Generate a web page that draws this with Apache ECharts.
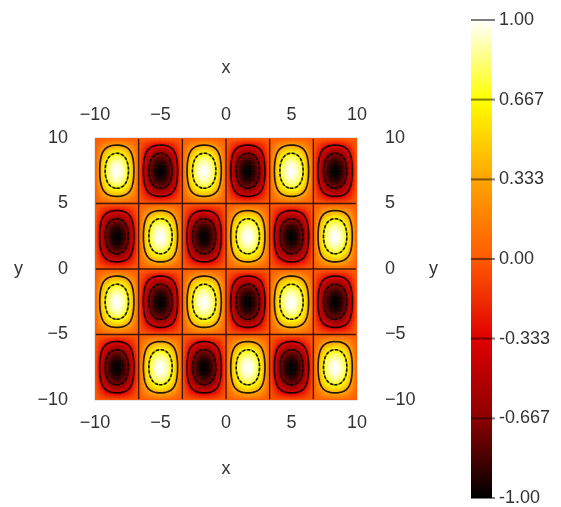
<!DOCTYPE html>
<html>
<head>
<meta charset="utf-8">
<script src="https://cdn.jsdelivr.net/npm/echarts@6/dist/echarts.min.js"></script>
<style>
  html, body { margin: 0; padding: 0; background: #fff; }
  #chart { width: 561px; height: 507px; }
</style>
</head>
<body>
<div id="chart"></div>
<script>
// Cell edges of the checkerboard surface (data units)
const xEdges = [-10, -6.667, -3.333, 0, 3.333, 6.667, 10];
const yEdges = [10, 5, 0, -5, -10]; // top to bottom

// Peak value of each cell, rows from top (y 5..10) down to bottom (y -10..-5)
const cellPeaks = [
  [ 1, -1,  1, -1,  1, -1],
  [-1,  1, -1,  1, -1,  1],
  [ 1, -1,  1, -1,  1, -1],
  [-1,  1, -1,  1, -1,  1]
];

// Contour levels drawn over the surface
const contourLevels = [-0.667, -0.333, 0, 0.333, 0.667];

// Axis ticks
const xTicks = [-10, -5, 0, 5, 10];
const yTicks = [-10, -5, 0, 5, 10];
const colorbarValues = [-1, -0.667, -0.333, 0, 0.333, 0.667, 1];
const colorbarLabels = ['-1.00', '-0.667', '-0.333', '0.00', '0.333', '0.667', '1.00'];

// Colour scale (value -> colour)
const colorStops = [
  [-1, '#000000'],
  [-0.667, '#8c0000'],
  [-0.333, '#e00000'],
  [0, '#ff5a00'],
  [0.333, '#ffa500'],
  [0.667, '#ffff00'],
  [1, '#ffffff']
];

const FONT = '"Liberation Sans", Arial, sans-serif';
const TEXT = '#333';
const FS = 18;

function hexToRgb(h) {
  return [parseInt(h.slice(1, 3), 16), parseInt(h.slice(3, 5), 16), parseInt(h.slice(5, 7), 16)];
}
const stopRgb = colorStops.map(s => [s[0], hexToRgb(s[1])]);
function colorAt(z) {
  if (z <= stopRgb[0][0]) z = stopRgb[0][0];
  if (z >= stopRgb[stopRgb.length - 1][0]) z = stopRgb[stopRgb.length - 1][0];
  for (let k = 0; k < stopRgb.length - 1; k++) {
    const a = stopRgb[k], b = stopRgb[k + 1];
    if (z <= b[0]) {
      const t = (z - a[0]) / (b[0] - a[0]);
      const c = a[1].map((v, i) => Math.round(v + (b[1][i] - v) * t));
      return 'rgb(' + c.join(',') + ')';
    }
  }
  return colorStops[colorStops.length - 1][1];
}

// Surface value: each cell is a smooth bump that vanishes on the cell edges
function surface(x, y) {
  let c = 0;
  while (c < xEdges.length - 2 && x > xEdges[c + 1]) c++;
  let r = 0;
  while (r < yEdges.length - 2 && y < yEdges[r + 1]) r++;
  const u = (x - xEdges[c]) / (xEdges[c + 1] - xEdges[c]);
  const v = (yEdges[r] - y) / (yEdges[r] - yEdges[r + 1]);
  return cellPeaks[r][c] * Math.sin(Math.PI * u) * Math.sin(Math.PI * v);
}

// Sample the surface on a regular grid
const N = 160;
const x0 = xEdges[0], x1 = xEdges[xEdges.length - 1];
const y0 = yEdges[yEdges.length - 1], y1 = yEdges[0];
const dx = (x1 - x0) / N, dy = (y1 - y0) / N;
const gx = [], gy = [];
for (let i = 0; i < N; i++) gx.push(x0 + (i + 0.5) * dx);
for (let j = 0; j < N; j++) gy.push(y0 + (j + 0.5) * dy);
const grid = [];
const fillData = [];
for (let j = 0; j < N; j++) {
  const row = [];
  for (let i = 0; i < N; i++) {
    const z = surface(gx[i], gy[j]);
    row.push(z);
    fillData.push([gx[i], gy[j], z]);
  }
  grid.push(row);
}

// Marching squares, with segments chained into polylines
function contour(level) {
  const segs = [];
  const pts = {};
  function edgePoint(key, xa, ya, za, xb, yb, zb) {
    if (!pts[key]) {
      const t = (level - za) / (zb - za);
      pts[key] = [xa + (xb - xa) * t, ya + (yb - ya) * t];
    }
    return key;
  }
  for (let j = 0; j < N - 1; j++) {
    for (let i = 0; i < N - 1; i++) {
      const za = grid[j][i], zb = grid[j][i + 1], zc = grid[j + 1][i + 1], zd = grid[j + 1][i];
      const ia = za >= level, ib = zb >= level, ic = zc >= level, id = zd >= level;
      const e = [null, null, null, null];
      if (ia !== ib) e[0] = edgePoint('h' + i + ',' + j, gx[i], gy[j], za, gx[i + 1], gy[j], zb);
      if (ib !== ic) e[1] = edgePoint('v' + (i + 1) + ',' + j, gx[i + 1], gy[j], zb, gx[i + 1], gy[j + 1], zc);
      if (id !== ic) e[2] = edgePoint('h' + i + ',' + (j + 1), gx[i], gy[j + 1], zd, gx[i + 1], gy[j + 1], zc);
      if (ia !== id) e[3] = edgePoint('v' + i + ',' + j, gx[i], gy[j], za, gx[i], gy[j + 1], zd);
      const found = e.filter(k => k !== null);
      if (found.length === 2) {
        segs.push(found);
      } else if (found.length === 4) {
        const center = (za + zb + zc + zd) / 4 >= level;
        if (center === ia) { segs.push([e[0], e[1]]); segs.push([e[2], e[3]]); }
        else { segs.push([e[3], e[0]]); segs.push([e[1], e[2]]); }
      }
    }
  }
  const byKey = {};
  segs.forEach((s, k) => {
    (byKey[s[0]] = byKey[s[0]] || []).push(k);
    (byKey[s[1]] = byKey[s[1]] || []).push(k);
  });
  const used = new Array(segs.length).fill(false);
  const lines = [];
  function walk(startSeg, startKey) {
    const keys = [startKey];
    let seg = startSeg, key = startKey;
    while (seg !== undefined && !used[seg]) {
      used[seg] = true;
      const next = segs[seg][0] === key ? segs[seg][1] : segs[seg][0];
      keys.push(next);
      key = next;
      seg = (byKey[key] || []).find(s => !used[s]);
    }
    return keys.map(k => pts[k]);
  }
  // open chains first, then closed loops
  Object.keys(byKey).forEach(k => {
    if (byKey[k].length === 1 && !used[byKey[k][0]]) lines.push(walk(byKey[k][0], k));
  });
  segs.forEach((s, k) => { if (!used[k]) lines.push(walk(k, s[0])); });
  return lines;
}

function contourSeries(levels, style) {
  const data = [];
  levels.forEach(l => contour(l).forEach(c => data.push({ coords: c })));
  return {
    type: 'lines',
    coordinateSystem: 'cartesian2d',
    xAxisIndex: 0,
    yAxisIndex: 0,
    polyline: true,
    silent: true,
    z: 5,
    lineStyle: style,
    data: data
  };
}

const minus = v => String(v).replace('-', '\u2212');
const labelStyle = { color: TEXT, fontSize: FS, fontFamily: FONT };

const chart = echarts.init(document.getElementById('chart'), null, { renderer: 'canvas' });

chart.setOption({
  animation: false,
  backgroundColor: '#fff',
  textStyle: { fontFamily: FONT },
  grid: [
    { left: 95, top: 138, width: 262, height: 262, show: true, borderColor: '#ccc', borderWidth: 1, backgroundColor: 'transparent' },
    { left: 471, top: 20, width: 21, height: 478 }
  ],
  xAxis: [
    {
      gridIndex: 0, type: 'value', position: 'bottom', min: -10, max: 10, interval: 5,
      name: 'x', nameLocation: 'middle', nameGap: 60, nameTextStyle: labelStyle,
      axisLine: { show: false }, axisTick: { show: false }, splitLine: { show: false },
      axisLabel: Object.assign({ customValues: xTicks, margin: 14, formatter: minus }, labelStyle)
    },
    {
      gridIndex: 0, type: 'value', position: 'top', min: -10, max: 10, interval: 5,
      name: 'x', nameLocation: 'middle', nameGap: 61, nameTextStyle: labelStyle,
      axisLine: { show: false }, axisTick: { show: false }, splitLine: { show: false },
      axisLabel: Object.assign({ customValues: xTicks, margin: 14, formatter: minus }, labelStyle)
    },
    {
      gridIndex: 1, type: 'value', min: 0, max: 1, show: false
    }
  ],
  yAxis: [
    {
      gridIndex: 0, type: 'value', position: 'left', min: -10, max: 10, interval: 5,
      name: 'y', nameLocation: 'middle', nameGap: 72, nameRotate: 0, nameTextStyle: labelStyle,
      axisLine: { show: false }, axisTick: { show: false }, splitLine: { show: false },
      axisLabel: Object.assign({ customValues: yTicks, margin: 27, formatter: minus }, labelStyle)
    },
    {
      gridIndex: 0, type: 'value', position: 'right', min: -10, max: 10, interval: 5,
      name: 'y', nameLocation: 'middle', nameGap: 72, nameRotate: 0, nameTextStyle: labelStyle,
      axisLine: { show: false }, axisTick: { show: false }, splitLine: { show: false },
      axisLabel: Object.assign({ customValues: yTicks, margin: 28, formatter: minus }, labelStyle)
    },
    {
      gridIndex: 1, type: 'value', position: 'right', min: -1, max: 1,
      axisLine: { show: true, lineStyle: { color: '#999', width: 1 } },
      axisTick: { show: false }, splitLine: { show: false },
      axisLabel: Object.assign({
        customValues: colorbarValues, margin: 7,
        formatter: v => {
          let best = 0;
          colorbarValues.forEach((c, k) => { if (Math.abs(c - v) < Math.abs(colorbarValues[best] - v)) best = k; });
          return colorbarLabels[best];
        }
      }, labelStyle)
    }
  ],
  series: [
    // filled surface
    {
      type: 'custom',
      xAxisIndex: 0, yAxisIndex: 0,
      clip: true, silent: true, progressive: 0,
      data: fillData,
      renderItem: function (params, api) {
        const x = api.value(0), y = api.value(1), z = api.value(2);
        const p0 = api.coord([x - dx / 2, y + dy / 2]);
        const p1 = api.coord([x + dx / 2, y - dy / 2]);
        return {
          type: 'rect',
          shape: { x: p0[0], y: p0[1], width: p1[0] - p0[0] + 0.6, height: p1[1] - p0[1] + 0.6 },
          style: { fill: colorAt(z) }
        };
      }
    },
    contourSeries([0], { color: 'rgba(0,0,0,0.75)', width: 1.4, type: 'solid', opacity: 1 }),
    contourSeries([-0.333, 0.333], { color: 'rgba(0,0,0,0.85)', width: 1.7, type: 'solid', opacity: 1 }),
    contourSeries([-0.667, 0.667], { color: 'rgba(0,0,0,0.4)', width: 1.6, type: 'solid', opacity: 1 }),
    contourSeries([-0.667, 0.667], { color: 'rgba(0,0,0,0.85)', width: 1.6, type: [3, 2], opacity: 1 }),
    // colour bar
    {
      type: 'custom',
      xAxisIndex: 2, yAxisIndex: 2,
      silent: true,
      data: [[0, 1]],
      renderItem: function (params, api) {
        const top = api.coord([0, 1]);
        const bot = api.coord([1, -1]);
        const stops = colorStops.map(s => ({ offset: (1 - s[0]) / 2, color: s[1] })).reverse();
        return {
          type: 'rect',
          shape: { x: top[0], y: top[1], width: bot[0] - top[0], height: bot[1] - top[1] },
          style: { fill: new echarts.graphic.LinearGradient(0, 0, 0, 1, stops) }
        };
      }
    },
    {
      type: 'custom',
      xAxisIndex: 2, yAxisIndex: 2,
      silent: true, clip: false, z: 5,
      data: colorbarValues.map(v => [0, v]),
      renderItem: function (params, api) {
        const a = api.coord([0, api.value(1)]);
        const b = api.coord([1, api.value(1)]);
        return {
          type: 'line',
          shape: { x1: a[0], y1: a[1], x2: b[0] + 3, y2: b[1] },
          style: { stroke: 'rgba(0,0,0,0.5)', lineWidth: 2 }
        };
      }
    }
  ]
});
</script>
</body>
</html>
